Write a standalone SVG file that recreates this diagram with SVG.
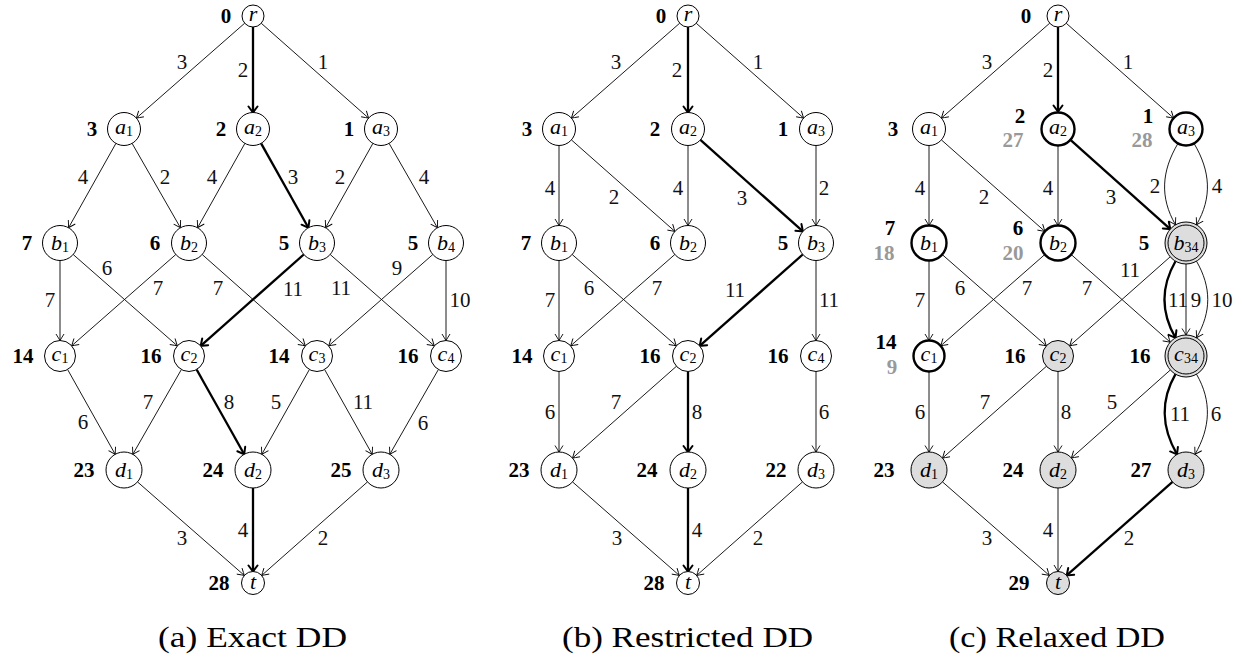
<svg xmlns="http://www.w3.org/2000/svg" width="1242" height="659" viewBox="0 0 1242 659">
<defs>
<marker id="ar" viewBox="-9 -6 11 12" markerWidth="11" markerHeight="12" refX="0" refY="0" orient="auto" markerUnits="userSpaceOnUse"><path d="M-6.5,-4 Q-2,-1.2 0,0 Q-2,1.2 -6.5,4" fill="none" stroke="#000" stroke-width="0.9"/></marker>
<marker id="arb" viewBox="-9 -7 11 14" markerWidth="11" markerHeight="14" refX="0" refY="0" orient="auto" markerUnits="userSpaceOnUse"><path d="M-6,-4.5 Q-2,-1.5 0,0 Q-2,1.5 -6,4.5" fill="none" stroke="#000" stroke-width="2" stroke-linecap="round"/></marker>
</defs>
<style>
.e{stroke:#000;stroke-width:0.9;fill:none;marker-end:url(#ar)}
.eb{stroke:#000;stroke-width:2.3;fill:none;marker-end:url(#arb)}
.n circle{fill:#fff;stroke:#000;stroke-width:1}
.n circle.tk{stroke-width:2.4}
.n circle.g{fill:#dddddd}
text{font-family:'Liberation Serif','Times New Roman',Times,serif}
.nl{font-size:22px;font-style:italic;text-anchor:middle}
.sub{font-size:14px;font-style:normal}
.v{font-weight:bold;font-size:21px;text-anchor:middle;fill:#000}
.gv{fill:#999}
.w{font-size:21px;text-anchor:middle;fill:#111}
.cap{font-size:30px;text-anchor:middle}
</style>

<!-- ================= Panel (a) ================= -->
<g id="panel-a">
<g id="a-connectors">
<line class="e" x1="244.7" y1="23.2" x2="136.4" y2="118.1"/>
<line class="eb" x1="253" y1="27" x2="253" y2="112.5"/>
<line class="e" x1="261.3" y1="23.3" x2="368.6" y2="118.1"/>
<line class="e" x1="115.9" y1="143.4" x2="68.6" y2="227.7"/>
<line class="e" x1="132.1" y1="143.4" x2="180.4" y2="227.7"/>
<line class="e" x1="244.9" y1="143.4" x2="197.6" y2="227.7"/>
<line class="eb" x1="261.1" y1="143.4" x2="308.4" y2="227.7"/>
<line class="e" x1="372.9" y1="143.4" x2="325.6" y2="227.7"/>
<line class="e" x1="389.1" y1="143.4" x2="437.4" y2="227.7"/>
<line class="e" x1="60" y1="260.5" x2="60" y2="340.5"/>
<line class="e" x1="73.2" y1="254.5" x2="177.3" y2="345.8"/>
<line class="e" x1="175.8" y1="254.5" x2="71.7" y2="345.8"/>
<line class="e" x1="202.2" y1="254.5" x2="305.3" y2="345.8"/>
<line class="eb" x1="303.8" y1="254.5" x2="200.7" y2="345.8"/>
<line class="e" x1="330.2" y1="254.5" x2="434.3" y2="345.8"/>
<line class="e" x1="432.8" y1="254.5" x2="328.7" y2="345.8"/>
<line class="e" x1="446" y1="260.5" x2="446" y2="340.5"/>
<line class="e" x1="67.6" y1="369.5" x2="115.2" y2="454.3"/>
<line class="e" x1="181.4" y1="369.5" x2="132.8" y2="454.3"/>
<line class="eb" x1="196.6" y1="369.5" x2="244.2" y2="454.3"/>
<line class="e" x1="309.4" y1="369.5" x2="261.8" y2="454.3"/>
<line class="e" x1="324.6" y1="369.5" x2="372.2" y2="454.3"/>
<line class="e" x1="438.4" y1="369.5" x2="389.8" y2="454.3"/>
<line class="e" x1="137.5" y1="481.9" x2="244.3" y2="575.4"/>
<line class="eb" x1="253" y1="488" x2="253" y2="571.5"/>
<line class="e" x1="367.5" y1="481.9" x2="261.7" y2="575.4"/>
<text class="w" x="182" y="69">3</text>
<text class="w" x="243" y="77">2</text>
<text class="w" x="323" y="69">1</text>
<text class="w" x="83" y="184">4</text>
<text class="w" x="165" y="184">2</text>
<text class="w" x="212" y="184">4</text>
<text class="w" x="293" y="184">3</text>
<text class="w" x="340" y="184">2</text>
<text class="w" x="424" y="184">4</text>
<text class="w" x="50" y="307">7</text>
<text class="w" x="107" y="275">6</text>
<text class="w" x="158" y="295">7</text>
<text class="w" x="218" y="295">7</text>
<text class="w" x="293" y="296">11</text>
<text class="w" x="341" y="295">11</text>
<text class="w" x="397" y="275">9</text>
<text class="w" x="460" y="307">10</text>
<text class="w" x="83" y="429">6</text>
<text class="w" x="148" y="409">7</text>
<text class="w" x="229" y="409">8</text>
<text class="w" x="276" y="409">5</text>
<text class="w" x="363" y="409">11</text>
<text class="w" x="423" y="430">6</text>
<text class="w" x="182" y="545">3</text>
<text class="w" x="243" y="537">4</text>
<text class="w" x="323" y="545">2</text>
</g>
<g id="a-r" class="n"><circle cx="253" cy="16" r="11"/><text class="nl" x="253" y="21">r</text><text class="v" x="226" y="23">0</text></g>
<g id="a-a1" class="n"><circle cx="124" cy="129" r="16.5"/><text class="nl" x="124" y="134">a<tspan class="sub" dy="2">1</tspan></text><text class="v" x="92" y="136">3</text></g>
<g id="a-a2" class="n"><circle cx="253" cy="129" r="16.5"/><text class="nl" x="253" y="134">a<tspan class="sub" dy="2">2</tspan></text><text class="v" x="221" y="136">2</text></g>
<g id="a-a3" class="n"><circle cx="381" cy="129" r="16.5"/><text class="nl" x="381" y="134">a<tspan class="sub" dy="2">3</tspan></text><text class="v" x="349" y="136">1</text></g>
<g id="a-b1" class="n"><circle cx="60" cy="243" r="17.5"/><text class="nl" x="60" y="249.5">b<tspan class="sub" dy="2">1</tspan></text><text class="v" x="27" y="250">7</text></g>
<g id="a-b2" class="n"><circle cx="189" cy="243" r="17.5"/><text class="nl" x="189" y="249.5">b<tspan class="sub" dy="2">2</tspan></text><text class="v" x="155" y="250">6</text></g>
<g id="a-b3" class="n"><circle cx="317" cy="243" r="17.5"/><text class="nl" x="317" y="249.5">b<tspan class="sub" dy="2">3</tspan></text><text class="v" x="284" y="250">5</text></g>
<g id="a-b4" class="n"><circle cx="446" cy="243" r="17.5"/><text class="nl" x="446" y="249.5">b<tspan class="sub" dy="2">4</tspan></text><text class="v" x="413" y="250">5</text></g>
<g id="a-c1" class="n"><circle cx="60" cy="356" r="15.5"/><text class="nl" x="60" y="361">c<tspan class="sub" dy="2">1</tspan></text><text class="v" x="23" y="363">14</text></g>
<g id="a-c2" class="n"><circle cx="189" cy="356" r="15.5"/><text class="nl" x="189" y="361">c<tspan class="sub" dy="2">2</tspan></text><text class="v" x="151" y="363">16</text></g>
<g id="a-c3" class="n"><circle cx="317" cy="356" r="15.5"/><text class="nl" x="317" y="361">c<tspan class="sub" dy="2">3</tspan></text><text class="v" x="279" y="363">14</text></g>
<g id="a-c4" class="n"><circle cx="446" cy="356" r="15.5"/><text class="nl" x="446" y="361">c<tspan class="sub" dy="2">4</tspan></text><text class="v" x="408" y="363">16</text></g>
<g id="a-d1" class="n"><circle cx="124" cy="470" r="18"/><text class="nl" x="124" y="476.5">d<tspan class="sub" dy="2">1</tspan></text><text class="v" x="84" y="477">23</text></g>
<g id="a-d2" class="n"><circle cx="253" cy="470" r="18"/><text class="nl" x="253" y="476.5">d<tspan class="sub" dy="2">2</tspan></text><text class="v" x="213" y="477">24</text></g>
<g id="a-d3" class="n"><circle cx="381" cy="470" r="18"/><text class="nl" x="381" y="476.5">d<tspan class="sub" dy="2">3</tspan></text><text class="v" x="341" y="477">25</text></g>
<g id="a-t" class="n"><circle cx="253" cy="583" r="11.5"/><text class="nl" x="253" y="589">t</text><text class="v" x="219" y="590">28</text></g>
<text class="cap" x="252.5" y="647" textLength="189" lengthAdjust="spacingAndGlyphs">(a) Exact DD</text>
</g>

<!-- ================= Panel (b) ================= -->
<g id="panel-b" transform="translate(435,0)">
<g id="b-connectors">
<line class="e" x1="244.7" y1="23.2" x2="136.4" y2="118.1"/>
<line class="eb" x1="253" y1="27" x2="253" y2="112.5"/>
<line class="e" x1="261.3" y1="23.3" x2="368.6" y2="118.1"/>
<line class="e" x1="124" y1="145.5" x2="124" y2="225.5"/>
<line class="e" x1="136.4" y1="139.9" x2="239.9" y2="231.4"/>
<line class="e" x1="253" y1="145.5" x2="253" y2="225.5"/>
<line class="eb" x1="265.4" y1="139.9" x2="367.9" y2="231.4"/>
<line class="e" x1="381" y1="145.5" x2="381" y2="225.5"/>
<line class="e" x1="124" y1="260.5" x2="124" y2="340.5"/>
<line class="e" x1="137.2" y1="254.5" x2="241.3" y2="345.8"/>
<line class="e" x1="239.8" y1="254.5" x2="135.7" y2="345.8"/>
<line class="eb" x1="367.8" y1="254.5" x2="264.7" y2="345.8"/>
<line class="e" x1="381" y1="260.5" x2="381" y2="340.5"/>
<line class="e" x1="124" y1="371.5" x2="124" y2="452"/>
<line class="e" x1="241.4" y1="366.3" x2="137.5" y2="458.1"/>
<line class="eb" x1="253" y1="371.5" x2="253" y2="452"/>
<line class="e" x1="381" y1="371.5" x2="381" y2="452"/>
<line class="e" x1="137.5" y1="481.9" x2="244.3" y2="575.4"/>
<line class="eb" x1="253" y1="488" x2="253" y2="571.5"/>
<line class="e" x1="367.5" y1="481.9" x2="261.7" y2="575.4"/>
<text class="w" x="181" y="69">3</text>
<text class="w" x="242" y="77">2</text>
<text class="w" x="323" y="69">1</text>
<text class="w" x="115" y="195">4</text>
<text class="w" x="179" y="204">2</text>
<text class="w" x="243" y="195">4</text>
<text class="w" x="307" y="205">3</text>
<text class="w" x="389" y="195">2</text>
<text class="w" x="115" y="307">7</text>
<text class="w" x="154" y="295">6</text>
<text class="w" x="222" y="295">7</text>
<text class="w" x="300" y="297">11</text>
<text class="w" x="394" y="307">11</text>
<text class="w" x="115" y="419">6</text>
<text class="w" x="181" y="409">7</text>
<text class="w" x="262" y="419">8</text>
<text class="w" x="389" y="419">6</text>
<text class="w" x="182" y="545">3</text>
<text class="w" x="262" y="537">4</text>
<text class="w" x="323" y="545">2</text>
</g>
<g id="b-r" class="n"><circle cx="253" cy="16" r="11"/><text class="nl" x="253" y="21">r</text><text class="v" x="226" y="23">0</text></g>
<g id="b-a1" class="n"><circle cx="124" cy="129" r="16.5"/><text class="nl" x="124" y="134">a<tspan class="sub" dy="2">1</tspan></text><text class="v" x="92" y="136">3</text></g>
<g id="b-a2" class="n"><circle cx="253" cy="129" r="16.5"/><text class="nl" x="253" y="134">a<tspan class="sub" dy="2">2</tspan></text><text class="v" x="220" y="136">2</text></g>
<g id="b-a3" class="n"><circle cx="381" cy="129" r="16.5"/><text class="nl" x="381" y="134">a<tspan class="sub" dy="2">3</tspan></text><text class="v" x="348" y="136">1</text></g>
<g id="b-b1" class="n"><circle cx="124" cy="243" r="17.5"/><text class="nl" x="124" y="249.5">b<tspan class="sub" dy="2">1</tspan></text><text class="v" x="91" y="250">7</text></g>
<g id="b-b2" class="n"><circle cx="253" cy="243" r="17.5"/><text class="nl" x="253" y="249.5">b<tspan class="sub" dy="2">2</tspan></text><text class="v" x="220" y="250">6</text></g>
<g id="b-b3" class="n"><circle cx="381" cy="243" r="17.5"/><text class="nl" x="381" y="249.5">b<tspan class="sub" dy="2">3</tspan></text><text class="v" x="348" y="250">5</text></g>
<g id="b-c1" class="n"><circle cx="124" cy="356" r="15.5"/><text class="nl" x="124" y="361">c<tspan class="sub" dy="2">1</tspan></text><text class="v" x="87" y="363">14</text></g>
<g id="b-c2" class="n"><circle cx="253" cy="356" r="15.5"/><text class="nl" x="253" y="361">c<tspan class="sub" dy="2">2</tspan></text><text class="v" x="215" y="363">16</text></g>
<g id="b-c4" class="n"><circle cx="381" cy="356" r="15.5"/><text class="nl" x="381" y="361">c<tspan class="sub" dy="2">4</tspan></text><text class="v" x="343" y="363">16</text></g>
<g id="b-d1" class="n"><circle cx="124" cy="470" r="18"/><text class="nl" x="124" y="476.5">d<tspan class="sub" dy="2">1</tspan></text><text class="v" x="84" y="477">23</text></g>
<g id="b-d2" class="n"><circle cx="253" cy="470" r="18"/><text class="nl" x="253" y="476.5">d<tspan class="sub" dy="2">2</tspan></text><text class="v" x="212" y="477">24</text></g>
<g id="b-d3" class="n"><circle cx="381" cy="470" r="18"/><text class="nl" x="381" y="476.5">d<tspan class="sub" dy="2">3</tspan></text><text class="v" x="341" y="477">22</text></g>
<g id="b-t" class="n"><circle cx="253" cy="583" r="11.5"/><text class="nl" x="253" y="589">t</text><text class="v" x="219" y="590">28</text></g>
<text class="cap" x="252.5" y="647" textLength="251" lengthAdjust="spacingAndGlyphs">(b) Restricted DD</text>
</g>

<!-- ================= Panel (c) ================= -->
<g id="panel-c" transform="translate(805,0)">
<g id="c-connectors">
<line class="e" x1="244.7" y1="23.2" x2="136.4" y2="118.1"/>
<line class="eb" x1="253" y1="27" x2="253" y2="111.5"/>
<line class="e" x1="261.3" y1="23.3" x2="368.6" y2="118.1"/>
<line class="e" x1="124" y1="146" x2="124" y2="225.5"/>
<line class="e" x1="136.4" y1="139.9" x2="239.9" y2="231.4"/>
<line class="e" x1="253" y1="146" x2="253" y2="225.5"/>
<line class="eb" x1="266" y1="140.4" x2="365.3" y2="229.1"/>
<path class="e" d="M372.75,143.8 C356.75,171 354.5,197.1 370.5,224.8"/>
<path class="e" d="M389.25,143.8 C405.25,171 407.5,197.1 391.5,224.8"/>
<line class="e" x1="124" y1="261" x2="124" y2="340.5"/>
<line class="e" x1="137.6" y1="254.9" x2="241.3" y2="345.8"/>
<line class="e" x1="239.4" y1="254.9" x2="135.7" y2="345.8"/>
<line class="e" x1="266.6" y1="254.9" x2="365.2" y2="342.2"/>
<line class="e" x1="365.2" y1="256.8" x2="264.7" y2="345.8"/>
<line class="e" x1="381" y1="264" x2="381" y2="335"/>
<path class="eb" d="M370.5,261.2 C355.5,287.2 355.5,311.8 370.5,337.8"/>
<path class="e" d="M391.5,261.2 C406.5,287.2 406.5,311.8 391.5,337.8"/>
<line class="e" x1="124" y1="372" x2="124" y2="452"/>
<line class="e" x1="241.4" y1="366.3" x2="137.5" y2="458.1"/>
<line class="e" x1="253" y1="371.5" x2="253" y2="452"/>
<line class="e" x1="365.3" y1="370" x2="266.4" y2="458"/>
<path class="eb" d="M370.5,374.2 C355,401 356.5,427.5 372,454.4"/>
<path class="e" d="M391.5,374.2 C407,401 405.5,427.5 390,454.4"/>
<line class="e" x1="137.5" y1="481.9" x2="244.3" y2="575.4"/>
<line class="e" x1="253" y1="488" x2="253" y2="571.5"/>
<line class="eb" x1="367.5" y1="481.9" x2="261.7" y2="575.4"/>
<text class="w" x="182" y="69">3</text>
<text class="w" x="243" y="77">2</text>
<text class="w" x="323" y="69">1</text>
<text class="w" x="115" y="195">4</text>
<text class="w" x="179" y="204">2</text>
<text class="w" x="243" y="195">4</text>
<text class="w" x="306" y="204">3</text>
<text class="w" x="350" y="193">2</text>
<text class="w" x="412" y="193">4</text>
<text class="w" x="115" y="307">7</text>
<text class="w" x="155" y="295">6</text>
<text class="w" x="222" y="295">7</text>
<text class="w" x="282" y="295">7</text>
<text class="w" x="325" y="277">11</text>
<text class="w" x="373" y="307">11</text>
<text class="w" x="391" y="307">9</text>
<text class="w" x="417" y="307">10</text>
<text class="w" x="115" y="419">6</text>
<text class="w" x="180" y="409">7</text>
<text class="w" x="261" y="419">8</text>
<text class="w" x="307" y="409">5</text>
<text class="w" x="375" y="421">11</text>
<text class="w" x="411" y="421">6</text>
<text class="w" x="182" y="545">3</text>
<text class="w" x="243" y="537">4</text>
<text class="w" x="324" y="545">2</text>
</g>
<g id="c-r" class="n"><circle cx="253" cy="16" r="11"/><text class="nl" x="253" y="21">r</text><text class="v" x="221" y="23">0</text></g>
<g id="c-a1" class="n"><circle cx="124" cy="129" r="16.5"/><text class="nl" x="124" y="134">a<tspan class="sub" dy="2">1</tspan></text><text class="v" x="88" y="136">3</text></g>
<g id="c-a2" class="n"><circle class="tk" cx="253" cy="129" r="16.5"/><text class="nl" x="253" y="134">a<tspan class="sub" dy="2">2</tspan></text><text class="v" x="215" y="123">2</text><text class="v gv" x="208" y="147">27</text></g>
<g id="c-a3" class="n"><circle class="tk" cx="381" cy="129" r="16.5"/><text class="nl" x="381" y="134">a<tspan class="sub" dy="2">3</tspan></text><text class="v" x="343" y="123">1</text><text class="v gv" x="337" y="147">28</text></g>
<g id="c-b1" class="n"><circle class="tk" cx="124" cy="243" r="17.5"/><text class="nl" x="124" y="249.5">b<tspan class="sub" dy="2">1</tspan></text><text class="v" x="85" y="235">7</text><text class="v gv" x="79" y="260">18</text></g>
<g id="c-b2" class="n"><circle class="tk" cx="253" cy="243" r="17.5"/><text class="nl" x="253" y="249.5">b<tspan class="sub" dy="2">2</tspan></text><text class="v" x="213" y="235">6</text><text class="v gv" x="208" y="260">20</text></g>
<g id="c-b34" class="n"><circle class="g" cx="381" cy="243" r="21"/><circle cx="381" cy="243" r="18" style="fill:none"/><text class="nl" x="381" y="249.5">b<tspan class="sub" dy="2">34</tspan></text><text class="v" x="339" y="250">5</text></g>
<g id="c-c1" class="n"><circle class="tk" cx="124" cy="356" r="15.5"/><text class="nl" x="124" y="361">c<tspan class="sub" dy="2">1</tspan></text><text class="v" x="81" y="349">14</text><text class="v gv" x="87" y="374">9</text></g>
<g id="c-c2" class="n"><circle class="g" cx="253" cy="356" r="15.5"/><text class="nl" x="253" y="361">c<tspan class="sub" dy="2">2</tspan></text><text class="v" x="210" y="363">16</text></g>
<g id="c-c34" class="n"><circle class="g" cx="381" cy="356" r="21"/><circle cx="381" cy="356" r="18" style="fill:none"/><text class="nl" x="381" y="361">c<tspan class="sub" dy="2">34</tspan></text><text class="v" x="335" y="363">16</text></g>
<g id="c-d1" class="n"><circle class="g" cx="124" cy="470" r="18"/><text class="nl" x="124" y="476.5">d<tspan class="sub" dy="2">1</tspan></text><text class="v" x="79" y="477">23</text></g>
<g id="c-d2" class="n"><circle class="g" cx="253" cy="470" r="18"/><text class="nl" x="253" y="476.5">d<tspan class="sub" dy="2">2</tspan></text><text class="v" x="208" y="477">24</text></g>
<g id="c-d3" class="n"><circle class="g" cx="381" cy="470" r="18"/><text class="nl" x="381" y="476.5">d<tspan class="sub" dy="2">3</tspan></text><text class="v" x="336" y="477">27</text></g>
<g id="c-t" class="n"><circle class="g" cx="253" cy="583" r="11.5"/><text class="nl" x="253" y="589">t</text><text class="v" x="214" y="590">29</text></g>
<text class="cap" x="252" y="647" textLength="216" lengthAdjust="spacingAndGlyphs">(c) Relaxed DD</text>
</g>
</svg>
